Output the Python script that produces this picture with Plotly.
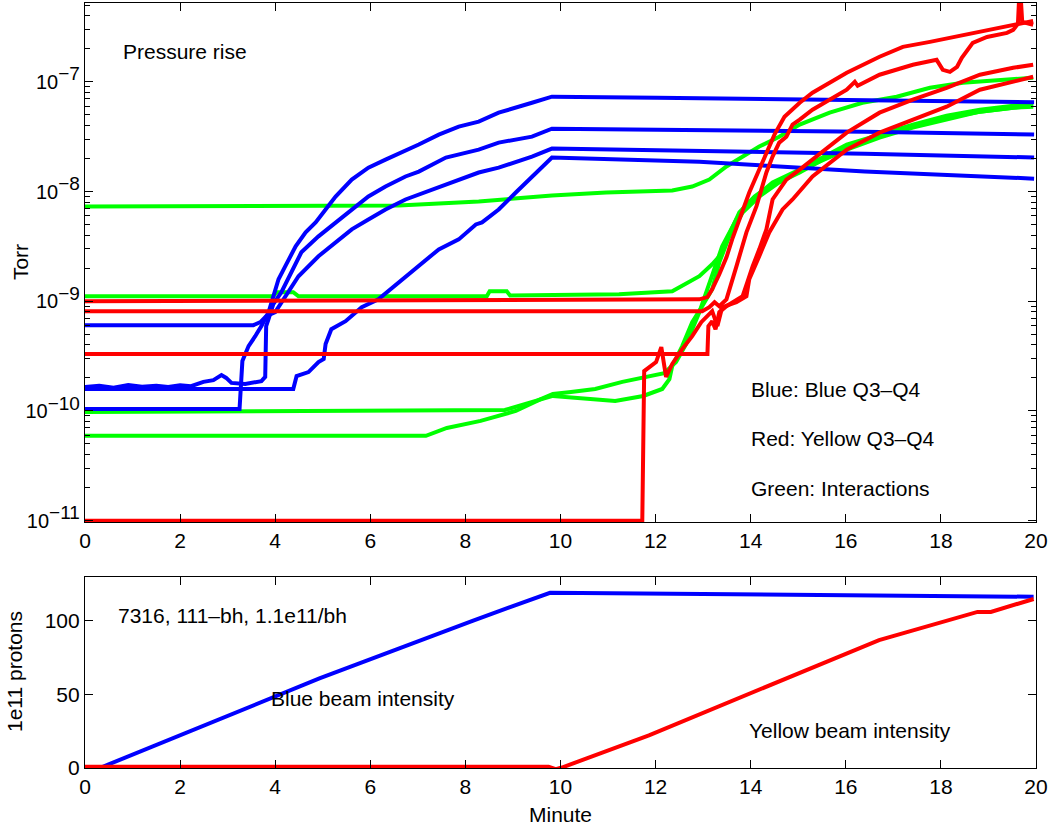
import plotly.graph_objects as go

# ---------------- Pressure traces (minutes, Torr) ----------------
# Blue: Blue Q3-Q4 gauges
blue1_min = [0, 3.25, 3.31, 3.37, 3.44, 3.58, 3.71, 3.86, 3.96, 4.07, 4.21, 4.43, 4.64, 4.85,
             5.06, 5.27, 5.61, 5.96, 6.32, 6.66, 7.02, 7.44, 7.86, 8.28, 8.70, 9.40, 9.82,
             12.03, 16.40, 19.96]
blue1_torr = [1.04e-10, 1.04e-10, 2.85e-10, 3.30e-10, 3.90e-10, 4.80e-10, 5.93e-10, 7.94e-10,
              1.11e-9, 1.585e-9, 2.08e-9, 3.16e-9, 4.24e-9, 5.23e-9, 6.86e-9, 9.0e-9, 1.285e-8,
              1.65e-8, 1.95e-8, 2.26e-8, 2.68e-8, 3.30e-8, 3.90e-8, 4.33e-8, 5.23e-8, 6.44e-8,
              7.31e-8, 7.16e-8, 6.86e-8, 6.50e-8]

blue2_min = [0, 0.3, 0.6, 0.91, 1.2, 1.5, 1.75, 2.0, 2.23, 2.49, 2.70, 2.87, 2.97, 3.08, 3.37,
             3.71, 3.79, 3.81, 3.86, 3.96, 4.13, 4.34, 4.55, 4.91, 5.27, 5.61, 5.96, 6.32,
             6.74, 7.02, 7.59, 8.28, 8.70, 9.40, 9.82, 12.03, 16.40, 19.96]
blue2_torr = [1.65e-10, 1.70e-10, 1.63e-10, 1.72e-10, 1.66e-10, 1.70e-10, 1.65e-10, 1.71e-10,
              1.68e-10, 1.84e-10, 1.91e-10, 2.12e-10, 2.0e-10, 1.80e-10, 1.76e-10, 1.87e-10,
              2.04e-10, 5.93e-10, 6.86e-10, 9.39e-10, 1.21e-9, 1.84e-9, 2.79e-9, 3.90e-9,
              5.23e-9, 6.86e-9, 9.0e-9, 1.11e-8, 1.37e-8, 1.52e-8, 2.04e-8, 2.41e-8, 2.79e-8,
              3.16e-8, 3.74e-8, 3.66e-8, 3.51e-8, 3.30e-8]

blue3_min = [0, 3.54, 3.69, 3.81, 4.00, 4.21, 4.49, 4.91, 5.27, 5.61, 5.96, 6.32, 6.74, 7.02,
             7.44, 8.28, 8.70, 9.40, 9.82, 16.40, 19.96]
blue3_torr = [6.05e-10, 6.05e-10, 6.44e-10, 7.31e-10, 7.94e-10, 1.11e-9, 1.69e-9, 2.57e-9,
              3.44e-9, 4.52e-9, 5.56e-9, 6.86e-9, 8.46e-9, 9.39e-9, 1.11e-8, 1.49e-8, 1.65e-8,
              2.08e-8, 2.46e-8, 2.21e-8, 2.04e-8]

blue4_min = [0, 4.38, 4.45, 4.70, 4.91, 5.02, 5.06, 5.18, 5.48, 5.82, 6.17, 6.60, 7.02, 7.44,
             7.86, 8.22, 8.35, 8.70, 9.06, 9.40, 9.82, 12.92, 16.40, 19.96]
blue4_torr = [1.585e-10, 1.585e-10, 2.08e-10, 2.26e-10, 2.79e-10, 2.97e-10, 4.07e-10, 5.56e-10,
              6.58e-10, 8.82e-10, 1.04e-9, 1.49e-9, 2.08e-9, 2.97e-9, 3.66e-9, 5.01e-9,
              5.23e-9, 6.86e-9, 9.79e-9, 1.37e-8, 2.04e-8, 1.87e-8, 1.52e-8, 1.31e-8]

# Red: Yellow Q3-Q4 gauges
red1_min = [0, 12.92, 13.09, 13.19, 13.34, 13.49, 13.61, 13.76, 13.97, 14.18, 14.33, 14.50,
            14.71, 15.03, 15.30, 16.02, 16.71, 17.20, 17.77, 18.46, 18.97, 19.52, 19.94]
red1_torr = [1.0e-9, 1.04e-9, 1.09e-9, 1.285e-9, 1.76e-9, 2.51e-9, 3.66e-9, 5.56e-9, 9.79e-9,
             1.585e-8, 2.26e-8, 3.30e-8, 4.80e-8, 6.44e-8, 7.94e-8, 1.21e-7, 1.69e-7, 2.08e-7,
             2.31e-7, 2.67e-7, 2.97e-7, 3.30e-7, 3.58e-7]

red2_min = [0, 12.98, 13.13, 13.24, 13.34, 13.49, 13.70, 13.91, 14.12, 14.33, 14.46, 14.60,
            14.75, 14.88, 15.03, 15.30, 16.02, 16.19, 16.25, 16.71, 17.41, 17.91, 18.04, 18.19,
            18.34, 18.44, 18.67, 18.97, 19.39, 19.52, 19.62, 19.66, 19.71, 19.94]
red2_torr = [8.11e-10, 8.11e-10, 8.82e-10, 9.79e-10, 9.0e-10, 1.04e-9, 2.08e-9, 4.24e-9,
             7.31e-9, 1.49e-8, 2.08e-8, 2.79e-8, 3.16e-8, 4.07e-8, 4.52e-8, 5.56e-8, 8.46e-8,
             1.0e-7, 9.19e-8, 1.16e-7, 1.43e-7, 1.585e-7, 1.285e-7, 1.23e-7, 1.37e-7, 1.65e-7,
             2.26e-7, 2.56e-7, 2.79e-7, 2.97e-7, 3.37e-7, 8.0e-7, 3.51e-7, 3.30e-7]

red3_min = [0, 13.09, 13.11, 13.19, 13.26, 13.34, 13.49, 13.66, 13.83, 13.93, 14.04, 14.18,
            14.33, 14.46, 14.60, 14.75, 15.03, 15.30, 16.02, 16.71, 17.41, 18.12, 18.82,
            19.52, 19.94]
red3_torr = [3.30e-10, 3.30e-10, 5.93e-10, 6.58e-10, 5.56e-10, 7.94e-10, 9.0e-10, 1.0e-9,
             1.11e-9, 1.49e-9, 2.08e-9, 2.97e-9, 4.52e-9, 8.46e-9, 1.04e-8, 1.285e-8,
             1.585e-8, 1.95e-8, 3.44e-8, 5.23e-8, 6.86e-8, 8.82e-8, 1.16e-7, 1.34e-7, 1.43e-7]

red4_min = [0, 11.72, 11.76, 11.86, 12.01, 12.12, 12.22, 12.35, 12.56, 12.77, 12.96, 13.19,
            13.30, 13.40, 13.70, 13.91, 13.97, 14.18, 14.39, 14.67, 14.88, 15.30, 16.02,
            16.71, 17.41, 18.12, 18.82, 19.52, 19.94]
red4_torr = [1.0e-11, 1.0e-11, 2.31e-10, 2.51e-10, 2.79e-10, 3.82e-10, 2.04e-10, 2.68e-10,
             3.66e-10, 4.80e-10, 6.44e-10, 8.11e-10, 5.93e-10, 8.82e-10, 9.79e-10, 1.11e-9,
             1.585e-9, 2.57e-9, 4.24e-9, 6.86e-9, 8.46e-9, 1.37e-8, 2.41e-8, 3.44e-8,
             4.52e-8, 5.93e-8, 8.46e-8, 1.0e-7, 1.11e-7]

# Green: interaction-region gauges
green1_min = [0, 5.12, 6.60, 8.28, 9.82, 10.96, 12.35, 12.77, 13.13, 13.49, 13.83, 14.18,
              14.60, 15.03, 15.66, 16.35, 17.07, 17.77, 18.46, 19.18, 19.94]
green1_torr = [7.31e-9, 7.31e-9, 7.46e-9, 8.11e-9, 9.19e-9, 9.79e-9, 1.02e-8, 1.11e-8,
               1.285e-8, 1.69e-8, 2.08e-8, 2.57e-8, 3.16e-8, 4.07e-8, 5.23e-8, 6.44e-8,
               7.31e-8, 8.82e-8, 9.79e-8, 1.04e-7, 1.09e-7]

green2_min = [0, 3.96, 4.03, 4.38, 4.49, 8.45, 8.51, 8.87, 8.94, 11.23, 12.35, 12.64, 12.92,
              13.19, 13.34, 13.55, 13.76, 14.08, 14.50, 15.03, 15.30, 16.02, 16.71, 17.41,
              18.12, 18.82, 19.52, 19.94]
green2_torr = [1.11e-9, 1.11e-9, 1.21e-9, 1.21e-9, 1.11e-9, 1.11e-9, 1.23e-9, 1.23e-9,
               1.13e-9, 1.16e-9, 1.23e-9, 1.43e-9, 1.69e-9, 2.17e-9, 2.57e-9, 4.07e-9,
               6.44e-9, 9.0e-9, 1.21e-8, 1.52e-8, 1.76e-8, 2.41e-8, 3.10e-8, 3.82e-8,
               4.52e-8, 5.34e-8, 5.81e-8, 6.05e-8]

green3_min = [0, 8.83, 9.55, 9.84, 10.22, 10.73, 11.30, 11.74, 12.18, 12.43, 12.64, 12.92,
              13.19, 13.40, 13.70, 14.04, 14.46, 15.03, 16.02, 16.71, 17.41, 18.12, 18.82,
              19.52, 19.94]
green3_torr = [9.79e-11, 1.02e-10, 1.26e-10, 1.43e-10, 1.49e-10, 1.585e-10, 1.84e-10,
               2.0e-10, 2.21e-10, 2.79e-10, 4.07e-10, 7.94e-10, 1.69e-9, 3.16e-9, 5.56e-9,
               8.46e-9, 1.21e-8, 1.585e-8, 2.68e-8, 3.30e-8, 4.07e-8, 4.91e-8, 5.56e-8,
               6.05e-8, 6.31e-8]

green4_min = [0, 7.17, 7.61, 8.32, 9.06, 9.55, 9.84, 10.58, 11.15, 11.74, 12.14, 12.29, 12.35,
              12.56, 12.77, 12.98, 13.19, 13.34, 13.55, 13.83, 14.18, 14.60, 15.03, 16.02,
              16.71, 17.41, 18.12, 18.82, 19.52, 19.94]
green4_torr = [5.93e-11, 5.93e-11, 7.0e-11, 8.11e-11, 1.0e-10, 1.26e-10, 1.37e-10, 1.285e-10,
               1.23e-10, 1.37e-10, 1.585e-10, 1.95e-10, 2.57e-10, 3.90e-10, 6.44e-10, 9.0e-10,
               1.285e-9, 2.26e-9, 3.90e-9, 6.44e-9, 9.0e-9, 1.21e-8, 1.49e-8, 2.57e-8,
               3.23e-8, 3.98e-8, 4.71e-8, 5.34e-8, 5.81e-8, 5.93e-8]

# ---------------- Beam intensities (minutes, 1e11 protons) ----------------
blue_beam_min = [0, 0.31, 4.93, 8.15, 9.78, 19.95]
blue_beam_int = [0, 0, 60.8, 100, 119, 116.3]
yellow_beam_min = [0, 9.75, 9.90, 10.03, 11.86, 16.70, 18.77, 19.05, 19.95]
yellow_beam_int = [0.8, 0.8, -0.8, 0.3, 22.2, 86.9, 106, 106, 114.8]

# ---------------- Tick labels ----------------
x_ticks = [0, 2, 4, 6, 8, 10, 12, 14, 16, 18, 20]
torr_ticks = [1e-11, 1e-10, 1e-9, 1e-8, 1e-7]
torr_exponents = ["\u221211", "\u221210", "\u22129", "\u22128", "\u22127"]
beam_ticks = [0, 50, 100]

BLUE = "rgb(0,0,255)"
RED = "rgb(255,0,0)"
GREEN = "rgb(0,255,0)"
LW = 4.0
FONT = "Liberation Sans, Arial, sans-serif"
FS = 21

torr_ticktext = ["10<sup><span style='font-size:19px'>%s</span></sup>" % e
                 for e in torr_exponents]

fig = go.Figure()

pressure = [
    (green1_min, green1_torr, GREEN), (green2_min, green2_torr, GREEN),
    (green3_min, green3_torr, GREEN), (green4_min, green4_torr, GREEN),
    (blue1_min, blue1_torr, BLUE), (blue2_min, blue2_torr, BLUE),
    (blue3_min, blue3_torr, BLUE), (blue4_min, blue4_torr, BLUE),
    (red1_min, red1_torr, RED), (red2_min, red2_torr, RED),
    (red3_min, red3_torr, RED), (red4_min, red4_torr, RED),
]
for xs, ys, col in pressure:
    fig.add_trace(go.Scatter(x=xs, y=ys, mode="lines", line=dict(color=col, width=LW),
                             xaxis="x", yaxis="y", showlegend=False, hoverinfo="skip"))

fig.add_trace(go.Scatter(x=blue_beam_min, y=blue_beam_int, mode="lines",
                         line=dict(color=BLUE, width=LW), xaxis="x2", yaxis="y2",
                         showlegend=False, hoverinfo="skip"))
fig.add_trace(go.Scatter(x=yellow_beam_min, y=yellow_beam_int, mode="lines",
                         line=dict(color=RED, width=LW), xaxis="x2", yaxis="y2",
                         showlegend=False, hoverinfo="skip"))

minor_vals = [m * 10.0 ** e for e in range(-11, -6) for m in range(2, 10)]

axis_common = dict(showline=True, linecolor="black", linewidth=1.2, mirror="ticks",
                   ticks="inside", tickcolor="black", ticklen=8, tickwidth=1,
                   showgrid=False, zeroline=False,
                   tickfont=dict(family=FONT, size=FS, color="black"))

fig.update_layout(
    width=1061, height=827,
    margin=dict(l=85, r=25, t=3, b=59),
    paper_bgcolor="white", plot_bgcolor="white",
    font=dict(family=FONT, size=FS, color="black"),
    xaxis=dict(domain=[0, 1], anchor="y", range=[0, 20], tickvals=x_ticks, **axis_common),
    yaxis=dict(domain=[0.3216, 1.0], anchor="x", type="log", range=[-11.012, -6.282],
               tickvals=torr_ticks, ticktext=torr_ticktext,
               minor=dict(tickvals=minor_vals, ticks="inside", ticklen=5, tickcolor="black"),
               **{**axis_common, "tickfont": dict(family=FONT, size=20, color="black")}),
    xaxis2=dict(domain=[0, 1], anchor="y2", range=[0, 20], tickvals=x_ticks, **axis_common),
    yaxis2=dict(domain=[0, 0.2502], anchor="x2", range=[0, 130], tickvals=beam_ticks,
                **axis_common),
)

# Axis titles placed in paper coordinates
titles = [
    (-0.0683, 0.6614, "Torr", -90),
    (-0.0736, 0.1255, "1e11 protons", -90),
    (0.5005, -0.0614, "Minute", 0),
]
for xv, yv, txt, ang in titles:
    fig.add_annotation(xref="paper", yref="paper", x=xv, y=yv, text=txt, showarrow=False,
                       textangle=ang, xanchor="center", yanchor="middle",
                       font=dict(family=FONT, size=FS, color="black"))

notes = [
    ("x", "y", 0.76, -6.727, "Pressure rise"),
    ("x", "y", 13.97, -9.80, "Blue: Blue Q3\u2013Q4"),
    ("x", "y", 13.97, -10.255, "Red: Yellow Q3\u2013Q4"),
    ("x", "y", 13.97, -10.709, "Green: Interactions"),
    ("x2", "y2", 0.65, 103.9, "7316, 111\u2013bh, 1.1e11/bh"),
    ("x2", "y2", 3.86, 47.4, "Blue beam intensity"),
    ("x2", "y2", 13.93, 25.6, "Yellow beam intensity"),
]
for xr, yr, xv, yv, txt in notes:
    fig.add_annotation(xref=xr, yref=yr, x=xv, y=yv, text=txt, showarrow=False,
                       xanchor="left", yanchor="middle",
                       font=dict(family=FONT, size=FS, color="black"))

fig.write_html("out.html")
